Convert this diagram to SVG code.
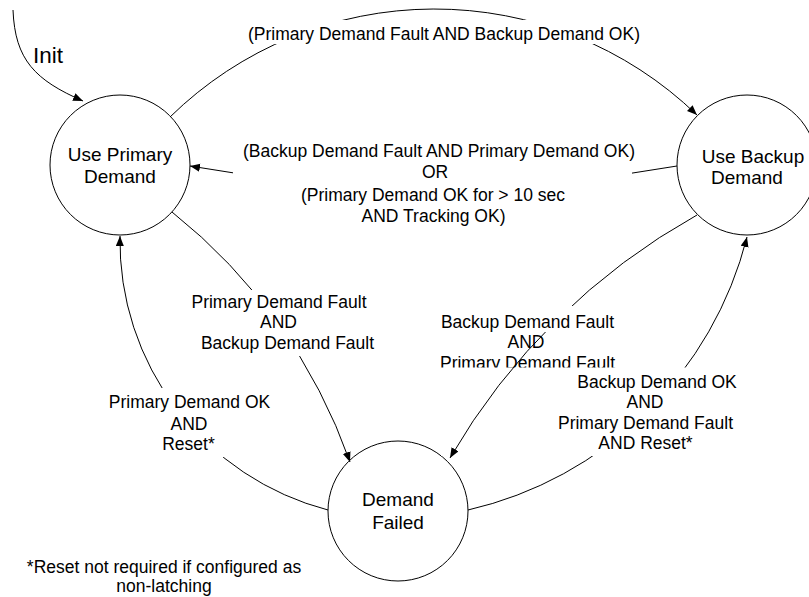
<svg xmlns="http://www.w3.org/2000/svg" width="809" height="597" viewBox="0 0 809 597">
<style>
  text { font-family: "Liberation Sans", Arial, sans-serif; fill: #000; }
  .node { fill: #fff; stroke: #000; stroke-width: 1; }
  .nt { font-size: 19px; text-anchor: middle; }
  .lb { font-size: 17.5px; text-anchor: middle; }
  .edge { fill: none; stroke: #000; stroke-width: 1; }
  .bg { fill: #fff; stroke: none; }
</style>
<defs>
  <marker id="arrow" markerUnits="userSpaceOnUse" markerWidth="11" markerHeight="9" refX="10" refY="4" orient="auto">
    <path d="M0,0 L10,4 L0,8 z" fill="#000"/>
  </marker>
</defs>
<rect x="0" y="0" width="809" height="597" fill="#fff"/>

<g id="nodes">
  <g id="use-primary">
    <circle class="node" cx="120" cy="165" r="70"/>
    <text class="nt" x="120" y="161">Use Primary</text>
    <text class="nt" x="120" y="183">Demand</text>
  </g>
  <g id="use-backup">
    <circle class="node" cx="747" cy="165" r="70"/>
    <text class="nt" x="753" y="163">Use Backup</text>
    <text class="nt" x="747" y="184">Demand</text>
  </g>
  <g id="demand-failed">
    <circle class="node" cx="398" cy="511" r="70"/>
    <text class="nt" x="398" y="506">Demand</text>
    <text class="nt" x="398" y="529">Failed</text>
  </g>
</g>

<g id="connectors">
  <g id="init">
    <path class="edge" d="M13,10 C15,60 35,80 83,101" marker-end="url(#arrow)"/>
    <text x="33" y="63" style="font-size:22.5px">Init</text>
  </g>
  <g id="primary-to-backup">
    <path class="edge" d="M170,117 A378,378 0 0 1 697,115" marker-end="url(#arrow)"/>
    <rect class="bg" x="245" y="20" width="398" height="24"/>
    <text class="lb" x="444" y="40">(Primary Demand Fault AND Backup Demand OK)</text>
  </g>
  <g id="backup-to-primary">
    <path class="edge" d="M677,166 Q433,210 190,166" marker-end="url(#arrow)"/>
    <rect class="bg" x="233" y="139" width="399" height="90"/>
    <text class="lb" x="439" y="156.5">(Backup Demand Fault AND Primary Demand OK)</text>
    <text class="lb" x="435" y="177.5">OR</text>
    <text class="lb" x="433" y="201">(Primary Demand OK for &gt; 10 sec</text>
    <text class="lb" x="433.5" y="221.5">AND Tracking OK)</text>
  </g>
  <g id="primary-to-failed">
    <path class="edge" d="M172,212 A555,555 0 0 1 350,462" marker-end="url(#arrow)"/>
    <rect class="bg" x="190" y="290" width="186" height="66"/>
    <text class="lb" x="279" y="308">Primary Demand Fault</text>
    <text class="lb" x="278.5" y="328">AND</text>
    <text class="lb" x="287.5" y="349">Backup Demand Fault</text>
  </g>
  <g id="failed-to-primary">
    <path class="edge" d="M328,510 A278,278 0 0 1 120,236" marker-end="url(#arrow)"/>
    <rect class="bg" x="105" y="388" width="170" height="69"/>
    <text class="lb" x="189.5" y="408">Primary Demand OK</text>
    <text class="lb" x="189" y="430">AND</text>
    <text class="lb" x="188.5" y="450">Reset*</text>
  </g>
  <g id="backup-to-failed-label-lower">
    <text class="lb" x="526" y="348">AND</text>
    <text class="lb" x="527.5" y="368.5">Primary Demand Fault</text>
  </g>
  <g id="failed-to-backup">
    <path class="edge" d="M468,510 A374,374 0 0 0 747,237" marker-end="url(#arrow)"/>
    <rect class="bg" x="441" y="367.5" width="304" height="88.5"/>
    <text class="lb" x="657" y="388">Backup Demand OK</text>
    <text class="lb" x="645" y="408">AND</text>
    <text class="lb" x="645.5" y="428.5">Primary Demand Fault</text>
    <text class="lb" x="645.5" y="449">AND Reset*</text>
  </g>
  <g id="backup-to-failed">
    <path class="edge" d="M697,215 A653,653 0 0 0 450,458" marker-end="url(#arrow)"/>
    <rect class="bg" x="440" y="306" width="176" height="26"/>
    <text class="lb" x="527.5" y="328">Backup Demand Fault</text>
  </g>
</g>

<g id="footnote">
  <text class="lb" x="164" y="573">*Reset not required if configured as</text>
  <text class="lb" x="164" y="592">non-latching</text>
</g>
</svg>
